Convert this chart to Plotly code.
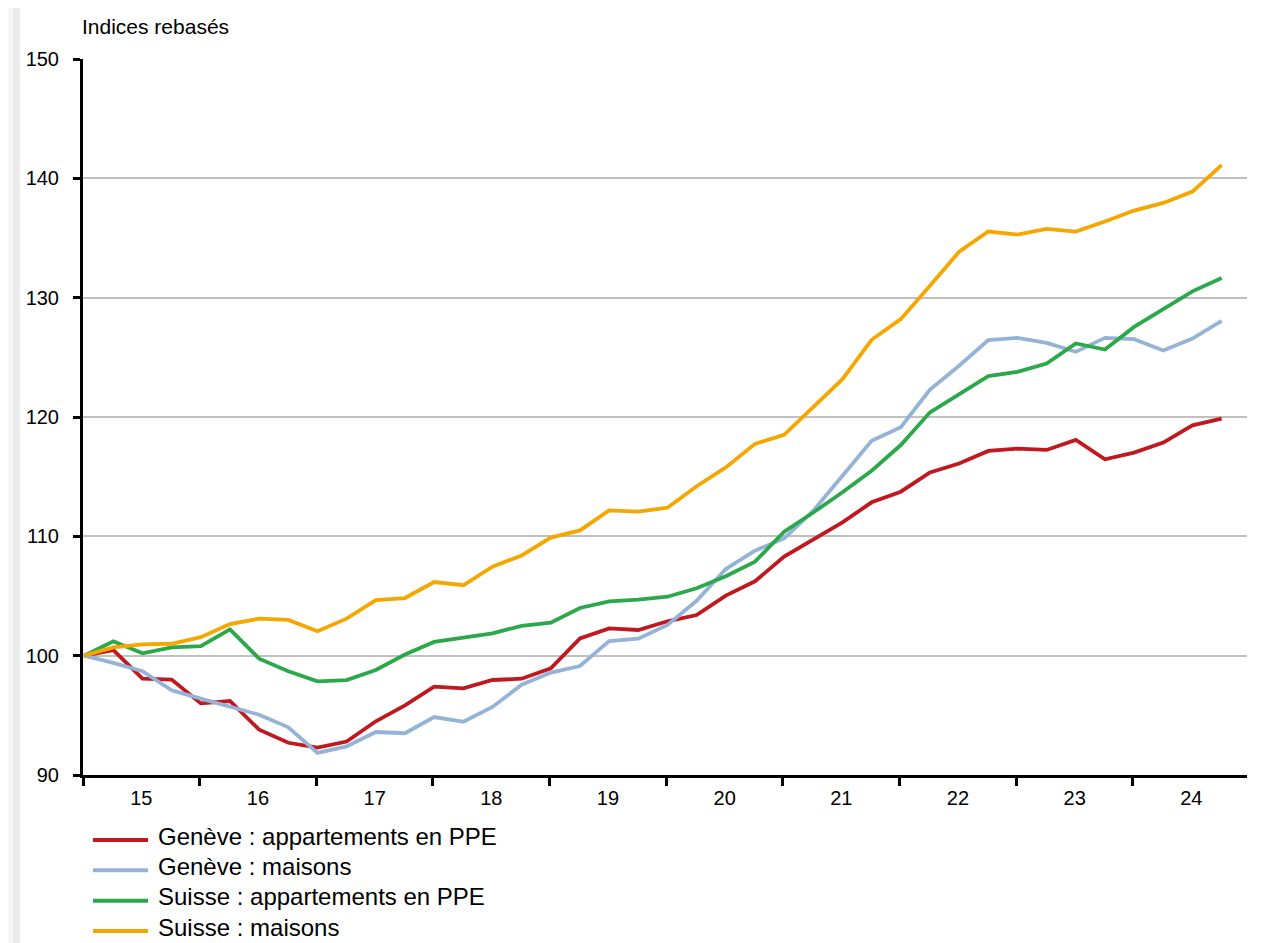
import plotly.graph_objects as go

quarters = list(range(40))  # 2015 T1 ... 2024 T4
years = ["15", "16", "17", "18", "19", "20", "21", "22", "23", "24"]

geneve_ppe = [100, 100.47, 98.07, 97.99, 96.0, 96.2, 93.8, 92.7, 92.3, 92.8,
              94.5, 95.84, 97.4, 97.26, 97.96, 98.07, 98.94, 101.45, 102.29, 102.15,
              102.88, 103.4, 105.03, 106.23, 108.3, 109.78, 111.17, 112.85, 113.74, 115.36,
              116.1, 117.16, 117.35, 117.24, 118.08, 116.46, 117.02, 117.86, 119.3, 119.86]
geneve_maisons = [100, 99.4, 98.7, 97.1, 96.4, 95.75, 95.05, 94.0, 91.85, 92.4,
                  93.6, 93.5, 94.86, 94.47, 95.7, 97.57, 98.58, 99.13, 101.23, 101.42,
                  102.57, 104.6, 107.26, 108.8, 109.83, 112.15, 115.08, 118.0, 119.15, 122.3,
                  124.3, 126.45, 126.63, 126.21, 125.46, 126.63, 126.52, 125.57, 126.57, 128.05]
suisse_ppe = [100, 101.2, 100.2, 100.7, 100.8, 102.2, 99.75, 98.7, 97.85, 97.95,
              98.8, 100.1, 101.15, 101.5, 101.87, 102.5, 102.77, 104.0, 104.55, 104.7,
              104.94, 105.65, 106.65, 107.88, 110.39, 112.0, 113.69, 115.5, 117.65, 120.39,
              121.9, 123.43, 123.79, 124.48, 126.16, 125.65, 127.55, 129.03, 130.53, 131.64]
suisse_maisons = [100, 100.7, 100.95, 101.0, 101.55, 102.65, 103.1, 103.0, 102.05, 103.1,
                  104.65, 104.83, 106.17, 105.9, 107.46, 108.4, 109.9, 110.5, 112.18, 112.07,
                  112.4, 114.2, 115.78, 117.75, 118.5, 120.8, 123.17, 126.47, 128.2, 131.0,
                  133.85, 135.54, 135.29, 135.77, 135.54, 136.38, 137.3, 137.94, 138.89, 141.11]

series_names = ["Genève : appartements en PPE", "Genève : maisons",
                "Suisse : appartements en PPE", "Suisse : maisons"]
series_values = [geneve_ppe, geneve_maisons, suisse_ppe, suisse_maisons]
series_colors = ["#c0181f", "#95b3d7", "#2ba84a", "#f5a700"]

fig = go.Figure()
for name, vals, col in zip(series_names, series_values, series_colors):
    fig.add_trace(go.Scatter(x=quarters, y=vals, mode="lines", name=name,
                             line=dict(color=col, width=3.8), showlegend=False))

# page body has an 8px margin: figure origin at screen (8, 8)
W, H = 1272, 935
ml, mr, mt, mb = 75, 33, 51, 168
pw, ph = W - ml - mr, H - mt - mb
PL, PB = 83, 775  # screen coords of plot left / bottom


def px(sx):
    return (sx - PL) / pw


def py(sy):
    return (PB - sy) / ph


off = -0.04
boundaries = [4 * i + off for i in range(10)]
centers = [4 * i + 2 + off for i in range(10)]

shapes = [
    dict(type="rect", xref="paper", yref="paper", layer="below",
         x0=px(8), x1=px(13), y0=py(943), y1=py(8),
         fillcolor="#f6f6f6", line=dict(width=0)),
    dict(type="rect", xref="paper", yref="paper", layer="below",
         x0=px(13), x1=px(20), y0=py(943), y1=py(8),
         fillcolor="#ebebeb", line=dict(width=0)),
]
annotations = [dict(text="Indices rebasés", xref="paper", yref="paper",
                    x=0, y=1, xanchor="left", yanchor="bottom", yshift=19, xshift=-3,
                    showarrow=False, font=dict(size=21))]

# legend below the chart
leg_y = [840, 870.3, 900.7, 931]
for name, col, sy in zip(series_names, series_colors, leg_y):
    shapes.append(dict(type="line", xref="paper", yref="paper",
                       x0=px(93), x1=px(148), y0=py(sy), y1=py(sy),
                       line=dict(color=col, width=4)))
    annotations.append(dict(text=name, xref="paper", yref="paper",
                            x=px(157), y=py(sy - 4), xanchor="left", yanchor="middle",
                            borderpad=0, showarrow=False, font=dict(size=24)))

fig.update_layout(
    width=W, height=H,
    margin=dict(l=ml, r=mr, t=mt, b=mb),
    paper_bgcolor="white", plot_bgcolor="white",
    font=dict(family="Liberation Sans, Arial, sans-serif", color="black", size=20),
    showlegend=False,
    xaxis=dict(range=[off, 39.87], tickvals=centers, ticktext=years,
               ticks="outside", ticklen=3, tickcolor="rgba(0,0,0,0)",
               showgrid=False, zeroline=False,
               showline=True, linecolor="black", linewidth=3,
               tickfont=dict(size=20),
               minor=dict(tickvals=boundaries, ticks="outside", ticklen=8,
                          tickwidth=3, tickcolor="black", showgrid=False)),
    yaxis=dict(range=[90, 150], tickvals=[90, 100, 110, 120, 130, 140, 150],
               ticks="outside", ticklen=7, tickwidth=3, tickcolor="black",
               showgrid=True, gridcolor="#c0c0c0", gridwidth=1.5,
               zeroline=False, showline=True, linecolor="black", linewidth=3,
               tickfont=dict(size=20), ticklabelstandoff=10),
    annotations=annotations,
    shapes=shapes,
)

fig.write_html("out.html")
